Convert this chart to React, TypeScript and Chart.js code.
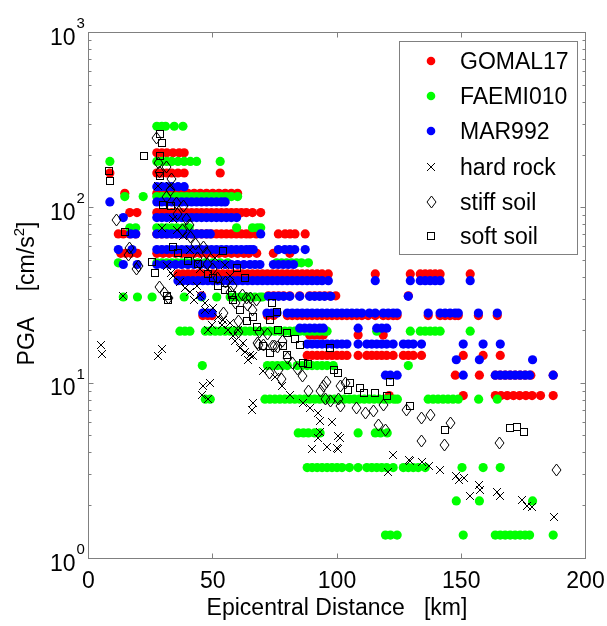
import React, { useEffect, useRef } from 'react';
import { Chart, registerables } from 'chart.js';

Chart.register(...registerables);

// ---------- axis ticks ----------
const xTickValues = [0, 50, 100, 150, 200];
const yDecades = [1, 10, 100, 1000];
const yExponents = ['0', '1', '2', '3'];
const legendLabels = ['GOMAL17', 'FAEMI010', 'MAR992', 'hard rock', 'stiff soil', 'soft soil'];

// ---------- GOMAL17 (red): PGA levels and epicentral distances at each level ----------
const gomalLevels = [206, 158, 121, 94, 71, 55, 42, 31.5, 24.3, 18.8, 14.4, 11.1, 8.5];
const gomalDist = [
  [27.5, 29.5, 31.5, 34, 36.5, 38.5],
  [8.6, 27.5, 29.5, 31.5, 33.5, 36, 38.5, 53],
  [14.6, 27.5, 30, 32.5, 35, 37.5, 40, 42.5, 45, 47.5, 50, 52.5, 55, 57.5, 60],
  [16.6, 19.5, 27.5, 29.5, 31.5, 33.5, 35.5, 37.5, 39.5, 41.5, 43.5, 45.5, 47.5, 49.5, 51.5, 53.5, 55.5, 57.5, 59.5, 61.5, 63.5, 66, 69.3],
  [12, 14, 16.6, 19, 27.5, 29.5, 31.5, 33.5, 35.5, 37.5, 39.5, 41.5, 43.5, 45.5, 47.5, 49.5, 51.5, 53.5, 55.5, 57.5, 59.5, 61.5, 63.5, 65, 67.5, 76.4, 79.1, 81.1, 83.1, 87.2],
  [13, 15, 17, 19.6, 27.5, 30, 32.5, 35, 37.5, 40, 42.5, 45, 47.5, 50, 52.5, 55, 57.5, 60, 62.5, 64.5, 67.7, 74.4, 81],
  [36, 38, 40, 42, 44, 46, 48, 50, 52, 54, 56, 58, 60, 62, 64, 66, 68, 70, 72, 74, 76, 78, 80, 82, 84, 86, 88, 90, 92, 94, 96.5, 115.4, 129.5, 133.5, 135.5, 137.5, 139.5, 141.5, 153.6],
  [45.5, 72.4, 74.5, 76.5, 78.5, 81, 85, 89, 91, 93, 95, 97, 99.5, 128.7],
  [46, 48, 49.7, 72, 74.5, 80, 82, 84, 86, 88, 90, 92, 94, 96, 98, 100, 102, 104, 106, 108, 110, 112.5, 115.4, 118.6, 120.6, 122.6, 124.2, 136.7, 141.5, 143.5, 145.5, 147.5, 148.8, 156.9, 164.5],
  [89, 91, 93, 94.5, 108.5, 118.6],
  [88, 90, 92, 94, 96, 98, 100, 102, 104, 108.5, 112, 114, 116, 118, 120, 122.6, 126.7, 128.7, 130.7, 134, 150.8, 158.8, 165.7],
  [147.6, 157.3, 163.7, 165.7, 167.7, 169.7, 171.7, 173.7, 175.7, 178, 187],
  [121, 150.8, 163.7, 166, 168.5, 171, 173.5, 176, 178.5, 181.9, 187],
];

// ---------- FAEMI010 (green) ----------
const faemiLevels = [292, 184, 116, 77, 48.6, 31, 19.8, 12.6, 8.1, 5.2, 3.3, 2.13, 1.36];
const faemiDist = [
  [27.5, 29.5, 31, 34.5, 38],
  [8.6, 27.5, 29.5, 31.5, 33.5, 36, 38.5, 41, 43.5, 53],
  [14.6, 22, 27.5, 29.5, 31.5, 33.5, 35.5, 37.5, 39.5, 41.5, 43.5, 45.5, 47.5, 49.5, 51.5, 53.5, 55.5, 57.5, 60],
  [16.6, 19, 27.5, 29.5, 31.5, 33.5, 35.5, 38, 40.5, 59.6, 66, 68, 69.3],
  [12, 27.5, 29.5, 31.5, 33.5, 35.5, 37.5, 39.5, 41.5, 44, 47, 50, 53, 56, 75.7, 77.7, 79.7, 81.7, 83.7, 85.7, 88.5],
  [14, 19.7, 25.6, 38.5, 45.5, 51.6, 57, 59, 61, 63, 65, 67, 69, 70],
  [36.8, 38.8, 40.8, 47, 49, 51, 53, 55, 57, 59, 61, 63, 65, 67, 69, 71, 73, 75, 77, 79, 81, 83, 85, 87, 89, 91, 93, 95, 96, 116, 129.5, 133.5, 135.5, 137.5, 139.5, 141.5, 153.6],
  [45.8, 72, 74, 76, 78, 80, 84, 86, 88, 90, 92, 94, 96, 98.5, 128.7],
  [47, 49, 71, 73, 75, 77, 79, 81, 83, 85, 87, 89, 91, 93, 95, 97, 99, 101, 103, 105, 107, 109, 111, 113, 115, 117, 119, 121, 123, 124.3, 136.7, 138.7, 140.7, 142.7, 144.7, 146.7, 148.8, 157, 164.5],
  [84.4, 86.5, 88.5, 91, 93.2, 108.5, 115.4, 117.5, 120.2],
  [88, 90, 92, 94, 96, 98, 100, 102, 105, 108.5, 112, 114, 116, 118, 120, 122.6, 126.7, 128.7, 130.7, 132.7, 135.5, 150.3, 158.8, 165.7],
  [148, 157.3, 178.7],
  [119.5, 121.5, 124.2, 150.8, 163.7, 165.7, 167.7, 169.7, 171.7, 173.7, 175.7, 177.5, 187],
];

// ---------- MAR992 (blue) ----------
const marLevels = [132, 108, 88, 71, 57.8, 47.5, 38.4, 31.3, 25.1, 20.6, 16.7, 13.6, 11.1];
const marDist = [
  [27.5, 29.5, 31.5, 33.5, 36, 38.5],
  [8.6, 27.5, 29.5, 31.5, 33.5, 35.5, 37.5, 39.5, 41.5, 43.5, 45.5, 47.5, 49.5, 51.5, 53.5, 55],
  [14, 27.5, 29.5, 31.5, 33.5, 35.5, 37.5, 39.5, 41.5, 43.5, 45.5, 47.5, 49.5, 51.5, 53.5, 55.5, 57.5, 59.6],
  [17, 19, 27.5, 29.5, 31.5, 33.5, 35.5, 37.5, 39.5, 41.5, 43.5, 45.5, 47.5, 49, 69.3],
  [12, 17.5, 27.5, 29.5, 31.5, 33.5, 35.5, 37.5, 39.5, 41.5, 43.5, 45.5, 47.5, 49.5, 51.5, 53.5, 55.5, 57.5, 59.5, 61.5, 63.5, 65, 66.3, 76.4, 79, 81, 83, 87.2],
  [14, 19.6, 27.5, 30, 32.5, 35, 37.5, 40, 42.5, 45, 47.5, 50, 52.5, 55, 57.5, 60, 62.5, 65, 67, 69, 74.4, 76.4, 78.4, 80.4, 82.5],
  [36, 38, 40, 42, 44, 46, 48, 50, 52, 54, 56, 58, 60, 62, 64, 66, 68, 70, 72, 74, 76, 78, 80, 82, 84, 86, 88, 90, 92, 94, 96.5, 115.4, 129.5, 133.5, 135.5, 137.5, 139.5, 141.5, 153.6],
  [45.5, 72.4, 74.5, 76.5, 78.5, 81, 85, 89, 91, 93, 95, 97.5, 128.7],
  [46, 48, 49.7, 71.8, 73.8, 75.9, 80, 82, 84, 86, 88, 90, 92, 94, 96, 98, 100, 102, 104, 106, 108, 110, 113, 115.4, 118.6, 120.6, 122.6, 124.2, 136.7, 141.5, 143.5, 145.5, 147.5, 148.8, 156.9, 164.5],
  [85, 87, 89, 91, 93, 94.5, 108.5, 116, 118, 120],
  [88, 90, 92, 94, 96, 98, 100, 102, 104, 108.5, 112, 114, 116, 118, 120, 122.6, 126.7, 128.7, 130.7, 134, 150.8, 158.8, 165.7],
  [148, 157.3, 178.7],
  [119.5, 121.5, 124.2, 150.8, 163.7, 165.7, 167.7, 169.7, 171.7, 173.7, 175.7, 177.5, 187],
];

// ---------- observed records: [distance km, PGA cm/s^2] ----------
const hardRock: [number, number][] = [
  [5, 16.6], [5.6, 14.7], [14, 31.3], [28, 133], [32.8, 133], [29.4, 76.6], [35.5, 75], [34, 86], [38.1, 69],
  [40.8, 57.8], [31.4, 46.4], [33.4, 42.5], [34, 40.7], [44.8, 44.5], [37, 38], [39, 35], [41, 33], [42.5, 30],
  [43.5, 36], [45, 32], [46.9, 28.6], [47, 26], [50, 27], [52, 24], [54, 23], [56, 20], [57, 22], [59, 17.5],
  [60, 20], [62, 17], [63, 15], [64, 13.5], [48.2, 20], [49.6, 21.6], [53.6, 21.6], [58.3, 18.5], [61, 15.9],
  [65, 14.5], [51, 52], [55, 47], [57, 41], [29.4, 15.7], [28, 14.2], [46.2, 9.6], [48.9, 10], [45.5, 8.6],
  [48.2, 8.1], [66.3, 7.7], [65.7, 7.07], [66.3, 14.2], [70.4, 11.7], [75, 10.9], [77.8, 9.6], [81.1, 8.6],
  [86.5, 7.7], [89.2, 7.2], [92.5, 6.75], [93.2, 6.05], [97.9, 5.97], [93.2, 5.3], [92.5, 4.86], [100.6, 4.97],
  [101.3, 4.86], [89.9, 4.2], [95.9, 4.3], [99.9, 4.27], [100.3, 4.2], [122.7, 3.9], [128.8, 3.65], [120.7, 3.1],
  [129.2, 3.6], [134.2, 3.53], [136.9, 3.35], [141.3, 3.18], [148, 2.94], [149, 2.81], [151, 2.87], [153.6, 2.26],
  [157.3, 2.63], [157.7, 2.47], [164.4, 2.41], [165.7, 2.26], [174.5, 2.16], [176.5, 2], [178.5, 1.97], [187.2, 1.72],
];

const stiffSoil: [number, number][] = [
  [11.3, 85.7], [16, 54], [16.6, 59.3], [19.3, 44.5], [20, 46.4], [27.4, 251], [28, 180], [31.4, 172], [33.4, 146],
  [28.5, 160], [31.4, 116], [32.8, 127], [35.5, 107], [38.1, 102], [39.5, 86], [40.8, 80], [36, 92], [38, 75],
  [41, 68], [43, 62], [44, 52], [46.2, 60], [47.6, 55], [48, 48], [50, 45], [52, 40], [28.7, 35.5], [30.7, 32.7],
  [32, 30.7], [54.2, 25.1], [55, 38], [57, 33], [58, 36], [59, 28.6], [60.3, 22.5], [60.3, 19.7], [62, 32],
  [63.7, 30.6], [65, 30.6], [67.7, 30], [64, 28], [66, 26], [68.3, 16.5], [69, 19.7], [68, 17], [70.4, 16.6],
  [72, 19], [74, 16.2], [75, 16.2], [76, 16], [78, 17.5], [73, 11.4], [76.4, 11.9], [77.8, 10.5], [80, 14],
  [82, 13], [84, 12], [86, 11], [88.5, 9], [93.2, 9], [94.5, 9.6], [95.2, 8.1], [97.2, 7.9], [100.6, 8.1],
  [101.3, 7.4], [95.9, 10.2], [101.3, 9.6], [103.3, 10], [108, 7.2], [111.3, 6.75], [114.7, 6.9], [116.7, 5.8],
  [119.4, 5.4], [118.7, 7.5], [128.1, 7.07], [134.2, 6.3], [137.5, 6.6], [145.6, 5.9], [134.2, 4.66],
  [143.3, 4.46], [165.5, 4.56], [188.2, 3.2],
];

const softSoil: [number, number][] = [
  [8.2, 163], [8.6, 142], [14.6, 72.5], [22.3, 197], [25.4, 49.4], [26.7, 42.5], [28.8, 262], [29.4, 235],
  [28.8, 197], [28.7, 151], [30, 104], [33.4, 102], [31.4, 31.3], [32, 30], [34, 60], [36, 55], [40, 50],
  [44, 48], [48, 42], [50, 40], [52, 36], [54, 56.6], [55, 34], [57.6, 32], [58.3, 30], [59.6, 45.5], [61, 26.3],
  [63, 39.8], [63.7, 22.5], [66, 24], [68, 21], [70.4, 16.2], [73, 14.9], [73.7, 28.6], [75.8, 25.6], [73, 23],
  [76.4, 20], [79.8, 19.3], [78.4, 16.2], [79.8, 14.5], [83.1, 17.8], [85.2, 16.6], [86.5, 13], [88.5, 12.8],
  [97.2, 15.9], [98.6, 11.9], [100.6, 11.4], [105.3, 10], [104.6, 9.2], [109.3, 9.4], [110.7, 8.8], [115.4, 8.8],
  [120, 8.4], [121.4, 10.1], [129.5, 7.4], [143.6, 5.4], [169.5, 5.55], [172.5, 5.66], [175.1, 5.3],
];

const FONT = '"Liberation Sans", Arial, Helvetica, sans-serif';
const GRAY = '#808080';
const MAIN = 23;
const SUP = 15;

function levelPoints(levels: number[], dists: number[][]) {
  const pts: { x: number; y: number }[] = [];
  levels.forEach((lv, i) => dists[i].forEach((d) => pts.push({ x: d, y: lv })));
  return pts;
}

function pairPoints(list: [number, number][]) {
  return list.map(([x, y]) => ({ x, y }));
}

function makeMarker(kind: 'cross' | 'diamond' | 'square'): HTMLCanvasElement {
  const c = document.createElement('canvas');
  const ctx = c.getContext('2d')!;
  ctx.strokeStyle = '#000';
  if (kind === 'cross') {
    c.width = 10; c.height = 10;
    ctx.strokeStyle = '#000'; ctx.lineWidth = 1;
    ctx.beginPath();
    ctx.moveTo(1, 1); ctx.lineTo(9, 9);
    ctx.moveTo(9, 1); ctx.lineTo(1, 9);
    ctx.stroke();
  } else if (kind === 'diamond') {
    c.width = 11; c.height = 14;
    ctx.strokeStyle = '#000'; ctx.lineWidth = 1;
    ctx.beginPath();
    ctx.moveTo(5.5, 1); ctx.lineTo(10, 7); ctx.lineTo(5.5, 13); ctx.lineTo(1, 7); ctx.closePath();
    ctx.stroke();
  } else {
    c.width = 10; c.height = 10;
    ctx.strokeStyle = '#000'; ctx.lineWidth = 1;
    ctx.strokeRect(1.5, 1.5, 7, 7);
  }
  return c;
}

export default function App() {
  const ref = useRef<HTMLCanvasElement | null>(null);

  useEffect(() => {
    if (!ref.current) return;
    const cross = makeMarker('cross');
    const diamond = makeMarker('diamond');
    const square = makeMarker('square');
    const markerImgs: [number, HTMLCanvasElement][] = [[3, cross], [4, diamond], [5, square]];

    // draws the observed-record markers at the pixel positions computed by Chart.js
    const markerPlugin = {
      id: 'markerPlugin',
      afterDatasetsDraw(chart: any) {
        const ctx = chart.ctx;
        ctx.save();
        markerImgs.forEach(([idx, img]) => {
          const meta = chart.getDatasetMeta(idx);
          meta.data.forEach((el: any) => {
            ctx.drawImage(img, Math.round(el.x - img.width / 2), Math.round(el.y - img.height / 2));
          });
        });
        ctx.restore();
      },
    };

    const decor = {
      id: 'decor',
      afterDraw(chart: any) {
        const { ctx, chartArea: a } = chart;
        const xs = chart.scales.x;
        const ys = chart.scales.y;
        ctx.save();
        // frame
        ctx.strokeStyle = GRAY;
        ctx.lineWidth = 1;
        ctx.strokeRect(a.left, a.top, a.right - a.left, a.bottom - a.top);
        // x ticks
        ctx.beginPath();
        xTickValues.forEach((v) => {
          const px = Math.round(xs.getPixelForValue(v) - 0.5) + 0.5;
          ctx.moveTo(px, a.bottom); ctx.lineTo(px, a.bottom - 5);
          ctx.moveTo(px, a.top); ctx.lineTo(px, a.top + 5);
        });
        // y ticks (major + minor)
        yDecades.forEach((d, i) => {
          const py = Math.round(ys.getPixelForValue(d) - 0.5) + 0.5;
          ctx.moveTo(a.left, py); ctx.lineTo(a.left + 5, py);
          ctx.moveTo(a.right, py); ctx.lineTo(a.right - 5, py);
          if (i < yDecades.length - 1) {
            for (let m = 2; m <= 9; m++) {
              const pm = Math.round(ys.getPixelForValue(d * m) - 0.5) + 0.5;
              ctx.moveTo(a.left, pm); ctx.lineTo(a.left + 3, pm);
              ctx.moveTo(a.right, pm); ctx.lineTo(a.right - 3, pm);
            }
          }
        });
        ctx.stroke();

        ctx.fillStyle = '#000';
        // x tick labels
        ctx.font = `${MAIN}px ${FONT}`;
        ctx.textAlign = 'center';
        ctx.textBaseline = 'alphabetic';
        xTickValues.forEach((v) => {
          ctx.fillText(String(v), xs.getPixelForValue(v), 588);
        });
        // y tick labels 10^n
        yDecades.forEach((d, i) => {
          const py = ys.getPixelForValue(d);
          ctx.font = `${MAIN}px ${FONT}`;
          ctx.textAlign = 'right';
          ctx.fillText('10', 75.5, py + 12);
          ctx.font = `${SUP}px ${FONT}`;
          ctx.textAlign = 'left';
          ctx.fillText(yExponents[i], 76.5, py - 4.5);
        });
        // x title
        ctx.font = `${MAIN}px ${FONT}`;
        ctx.textAlign = 'center';
        ctx.fillText('Epicentral Distance   [km]', (a.left + a.right) / 2, 615);
        // y title (rotated)
        ctx.save();
        ctx.translate(34, (a.top + a.bottom) / 2 - 2);
        ctx.rotate(-Math.PI / 2);
        ctx.textAlign = 'left';
        const p1 = 'PGA    [cm/s';
        const p3 = ']';
        ctx.font = `${MAIN}px ${FONT}`;
        const w1 = ctx.measureText(p1).width;
        const w3 = ctx.measureText(p3).width;
        ctx.font = `${SUP}px ${FONT}`;
        const w2 = ctx.measureText('2').width;
        const total = w1 + w2 + w3;
        let cx = -total / 2;
        ctx.font = `${MAIN}px ${FONT}`;
        ctx.fillText(p1, cx, 0);
        cx += w1;
        ctx.font = `${SUP}px ${FONT}`;
        ctx.fillText('2', cx, -10);
        cx += w2;
        ctx.font = `${MAIN}px ${FONT}`;
        ctx.fillText(p3, cx, 0);
        ctx.restore();

        // legend
        const lx = 399.5, ly = 41.5, lw = 178, lh = 213;
        ctx.fillStyle = '#fff';
        ctx.fillRect(lx, ly, lw, lh);
        ctx.strokeStyle = GRAY;
        ctx.strokeRect(lx, ly, lw, lh);
        const rows = [61, 96, 131, 167, 202, 236];
        const dotColors = ['#ff0000', '#00ff00', '#0000ff'];
        const imgs = [cross, diamond, square];
        rows.forEach((ry, i) => {
          if (i < 3) {
            ctx.fillStyle = dotColors[i];
            ctx.beginPath();
            ctx.arc(431, ry, 4.3, 0, Math.PI * 2);
            ctx.fill();
          } else {
            const im = imgs[i - 3];
            ctx.drawImage(im, Math.round(431 - im.width / 2), Math.round(ry - im.height / 2));
          }
          ctx.fillStyle = '#000';
          ctx.font = `${MAIN}px ${FONT}`;
          ctx.textAlign = 'left';
          ctx.fillText(legendLabels[i], 460, ry + 8);
        });
        ctx.restore();
      },
    };

    const dot = (label: string, color: string, data: any[], order: number) => ({
      label, data, order,
      pointStyle: 'circle', pointRadius: 4.6, pointBorderWidth: 0,
      backgroundColor: color, borderColor: color, borderWidth: 0,
      showLine: false,
    });
    const mark = (label: string, data: any[], order: number) => ({
      label, data, order,
      pointStyle: 'circle', pointRadius: 0, borderWidth: 0,
      backgroundColor: '#000', borderColor: '#000', showLine: false,
    });

    const chart = new Chart(ref.current, {
      type: 'scatter',
      data: {
        datasets: [
          dot(legendLabels[0], '#ff0000', levelPoints(gomalLevels, gomalDist), 6),
          dot(legendLabels[1], '#00ff00', levelPoints(faemiLevels, faemiDist), 5),
          dot(legendLabels[2], '#0000ff', levelPoints(marLevels, marDist), 4),
          mark(legendLabels[3], pairPoints(hardRock), 3),
          mark(legendLabels[4], pairPoints(stiffSoil), 2),
          mark(legendLabels[5], pairPoints(softSoil), 1),
        ] as any,
      },
      options: {
        responsive: false,
        animation: false,
        events: [],
        layout: { padding: { left: 88.5, right: 21.5, top: 32.5, bottom: 67.5 } },
        scales: {
          x: { type: 'linear', min: 0, max: 200, display: false },
          y: { type: 'logarithmic', min: 1, max: 1000, display: false },
        },
        plugins: { legend: { display: false }, tooltip: { enabled: false } },
      },
      plugins: [markerPlugin, decor],
    } as any);

    return () => chart.destroy();
  }, []);

  return (
    <canvas
      ref={ref}
      width={607}
      height={626}
      style={{ position: 'absolute', left: 0, top: 0, width: 607, height: 626, background: '#fff' }}
    />
  );
}
